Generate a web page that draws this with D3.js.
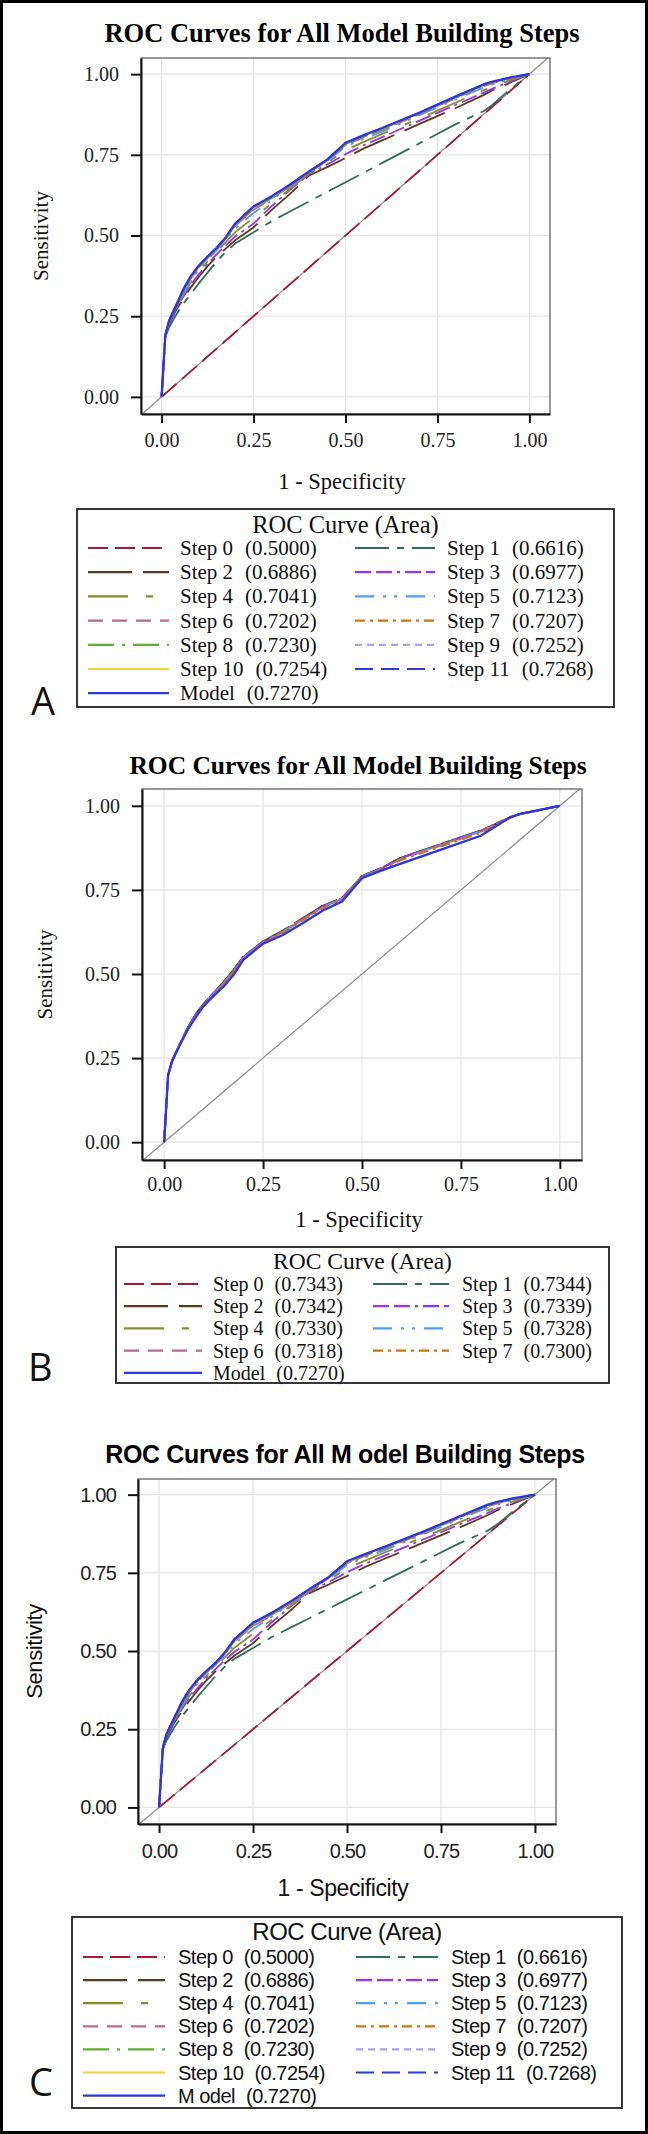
<!DOCTYPE html>
<html><head><meta charset="utf-8">
<script src="https://cdn.jsdelivr.net/npm/d3@7"></script>
<style>html,body{margin:0;padding:0;background:#fff;} svg{display:block}</style>
</head><body><svg id="fig" width="648" height="2134"></svg>
<script>
// ---------------- DATA ----------------
const fprGrid = [0, 0.01, 0.02, 0.04, 0.06, 0.08, 0.10, 0.125, 0.15, 0.175, 0.2, 0.25, 0.3, 0.35, 0.4, 0.45, 0.5, 0.55, 0.6, 0.7, 0.8, 0.875, 0.9, 0.95, 1];
const chanceFpr = [0, 1];
const chanceTpr = [0, 1];

// Panel A (and C): sensitivity at each fprGrid value
const aStep1  = [0, 0.185, 0.215, 0.255, 0.290, 0.320, 0.350, 0.385, 0.420, 0.450, 0.475, 0.510, 0.545, 0.575, 0.605, 0.635, 0.665, 0.695, 0.725, 0.785, 0.845, 0.885, 0.905, 0.955, 1];
const aStep2  = [0, 0.187, 0.225, 0.270, 0.305, 0.340, 0.370, 0.405, 0.435, 0.460, 0.485, 0.525, 0.580, 0.630, 0.685, 0.712, 0.740, 0.770, 0.795, 0.845, 0.895, 0.935, 0.950, 0.975, 1];
const aStep3  = [0, 0.188, 0.228, 0.275, 0.312, 0.348, 0.378, 0.412, 0.442, 0.470, 0.497, 0.537, 0.592, 0.642, 0.690, 0.720, 0.752, 0.780, 0.805, 0.855, 0.905, 0.942, 0.955, 0.978, 1];
const aStep4  = [0, 0.188, 0.230, 0.278, 0.318, 0.355, 0.385, 0.420, 0.450, 0.480, 0.510, 0.555, 0.600, 0.645, 0.692, 0.725, 0.765, 0.790, 0.815, 0.862, 0.912, 0.950, 0.960, 0.982, 1];
const aStep5  = [0, 0.189, 0.231, 0.280, 0.325, 0.362, 0.392, 0.425, 0.455, 0.487, 0.522, 0.570, 0.610, 0.650, 0.694, 0.730, 0.775, 0.800, 0.822, 0.872, 0.922, 0.958, 0.968, 0.985, 1];
const aStep6  = [0, 0.189, 0.232, 0.282, 0.330, 0.368, 0.398, 0.430, 0.458, 0.491, 0.530, 0.580, 0.615, 0.652, 0.695, 0.732, 0.780, 0.805, 0.827, 0.875, 0.926, 0.962, 0.972, 0.987, 1];
const aStep7  = [0, 0.189, 0.233, 0.283, 0.331, 0.369, 0.399, 0.431, 0.459, 0.492, 0.531, 0.582, 0.616, 0.653, 0.696, 0.733, 0.781, 0.806, 0.828, 0.876, 0.927, 0.963, 0.973, 0.987, 1];
const aStep8  = [0, 0.190, 0.234, 0.284, 0.333, 0.372, 0.402, 0.433, 0.460, 0.493, 0.534, 0.585, 0.618, 0.655, 0.697, 0.734, 0.783, 0.808, 0.830, 0.878, 0.929, 0.965, 0.975, 0.988, 1];
const aStep9  = [0, 0.190, 0.234, 0.285, 0.334, 0.374, 0.404, 0.434, 0.461, 0.494, 0.536, 0.588, 0.620, 0.657, 0.697, 0.734, 0.785, 0.810, 0.832, 0.879, 0.930, 0.967, 0.976, 0.989, 1];
const aStep10 = [0, 0.190, 0.235, 0.285, 0.335, 0.374, 0.404, 0.435, 0.462, 0.495, 0.536, 0.589, 0.621, 0.657, 0.698, 0.735, 0.786, 0.810, 0.832, 0.879, 0.930, 0.967, 0.976, 0.989, 1];
const aStep11 = [0, 0.190, 0.235, 0.285, 0.335, 0.375, 0.405, 0.435, 0.462, 0.495, 0.537, 0.590, 0.622, 0.658, 0.698, 0.735, 0.786, 0.810, 0.833, 0.880, 0.930, 0.967, 0.976, 0.990, 1];
const aModel  = [0, 0.190, 0.235, 0.285, 0.335, 0.375, 0.405, 0.435, 0.462, 0.495, 0.537, 0.590, 0.622, 0.658, 0.698, 0.735, 0.787, 0.811, 0.833, 0.880, 0.931, 0.968, 0.977, 0.990, 1];

// Panel B
const bStep0 = [0, 0.198, 0.243, 0.294, 0.341, 0.381, 0.411, 0.444, 0.475, 0.512, 0.551, 0.597, 0.628, 0.666, 0.702, 0.726, 0.791, 0.816, 0.846, 0.886, 0.926, 0.966, 0.976, 0.988, 1];
const bStep1 = [0, 0.199, 0.243, 0.294, 0.342, 0.381, 0.412, 0.445, 0.476, 0.511, 0.552, 0.597, 0.629, 0.665, 0.701, 0.727, 0.791, 0.816, 0.846, 0.887, 0.926, 0.967, 0.976, 0.988, 1];
const bStep2 = [0, 0.198, 0.242, 0.293, 0.341, 0.380, 0.411, 0.444, 0.475, 0.511, 0.551, 0.596, 0.628, 0.666, 0.702, 0.725, 0.790, 0.816, 0.846, 0.886, 0.925, 0.966, 0.976, 0.988, 1];
const bStep3 = [0, 0.198, 0.242, 0.293, 0.340, 0.380, 0.410, 0.443, 0.474, 0.510, 0.550, 0.597, 0.627, 0.664, 0.701, 0.726, 0.790, 0.815, 0.845, 0.887, 0.926, 0.966, 0.976, 0.988, 1];
const bStep4 = [0, 0.197, 0.241, 0.292, 0.339, 0.378, 0.409, 0.442, 0.472, 0.508, 0.548, 0.595, 0.626, 0.663, 0.699, 0.724, 0.789, 0.814, 0.843, 0.884, 0.924, 0.965, 0.975, 0.988, 1];
const bStep5 = [0, 0.197, 0.241, 0.292, 0.339, 0.378, 0.408, 0.441, 0.472, 0.508, 0.548, 0.595, 0.625, 0.662, 0.699, 0.724, 0.789, 0.814, 0.844, 0.884, 0.924, 0.965, 0.975, 0.987, 1];
const bStep6 = [0, 0.197, 0.240, 0.291, 0.338, 0.377, 0.407, 0.440, 0.470, 0.506, 0.547, 0.594, 0.624, 0.661, 0.698, 0.723, 0.788, 0.813, 0.842, 0.882, 0.922, 0.965, 0.975, 0.987, 1];
const bStep7 = [0, 0.196, 0.240, 0.290, 0.337, 0.375, 0.406, 0.438, 0.468, 0.503, 0.545, 0.593, 0.622, 0.659, 0.695, 0.721, 0.787, 0.811, 0.839, 0.879, 0.919, 0.965, 0.975, 0.987, 1];
const bModel = [0, 0.200, 0.240, 0.290, 0.335, 0.372, 0.405, 0.435, 0.462, 0.497, 0.542, 0.590, 0.616, 0.651, 0.688, 0.716, 0.785, 0.808, 0.829, 0.870, 0.911, 0.966, 0.976, 0.988, 1];

// Legend labels and areas
const namesA = ["Step 0", "Step 1", "Step 2", "Step 3", "Step 4", "Step 5", "Step 6", "Step 7", "Step 8", "Step 9", "Step 10", "Step 11", "Model"];
const areasA = ["0.5000", "0.6616", "0.6886", "0.6977", "0.7041", "0.7123", "0.7202", "0.7207", "0.7230", "0.7252", "0.7254", "0.7268", "0.7270"];
const namesB = ["Step 0", "Step 1", "Step 2", "Step 3", "Step 4", "Step 5", "Step 6", "Step 7", "Model"];
const areasB = ["0.7343", "0.7344", "0.7342", "0.7339", "0.7330", "0.7328", "0.7318", "0.7300", "0.7270"];
const namesC = ["Step 0", "Step 1", "Step 2", "Step 3", "Step 4", "Step 5", "Step 6", "Step 7", "Step 8", "Step 9", "Step 10", "Step 11", "M odel"];

const tickValues = [0, 0.25, 0.5, 0.75, 1];
const tickLabels = ["0.00", "0.25", "0.50", "0.75", "1.00"];
const chartTitle = "ROC Curves for All Model Building Steps";
const chartTitleC = "ROC Curves for All M odel Building Steps";
const legendTitle = "ROC Curve (Area)";
const xLabel = "1 - Specificity";
const yLabel = "Sensitivity";

// ---------------- STYLES ----------------
const styles = {
  "Step 0":  {c: "#a8192e", d: "20,7", w: 1.8},
  "Step 1":  {c: "#2f6e5f", d: "34,8,7,8", w: 1.8},
  "Step 2":  {c: "#5a3a22", d: "44,11", w: 1.8},
  "Step 3":  {c: "#9a34ea", d: "16,5,16,5,3,5", w: 1.8},
  "Step 4":  {c: "#8a8c26", d: "40,18,7,18", w: 1.8},
  "Step 5":  {c: "#4f9df5", d: "19,9,3,8,3,9", w: 1.8},
  "Step 6":  {c: "#b66a96", d: "15,9", w: 1.8},
  "Step 7":  {c: "#c87812", d: "10,5,3,5", w: 1.8},
  "Step 8":  {c: "#5fb02e", d: "26,8,3,8", w: 1.8},
  "Step 9":  {c: "#ab9ff3", d: "7,5", w: 1.8},
  "Step 10": {c: "#f0d23a", d: null, w: 1.8},
  "Step 11": {c: "#2a3bd9", d: "18,8", w: 1.8},
  "Model":   {c: "#2b36dc", d: null, w: 2.3},
};

const svg = d3.select("#fig");
svg.append("rect").attr("x", 0).attr("y", 0).attr("width", 648).attr("height", 2134).attr("fill", "#fff");

function drawPanel(cfg) {
  const g = svg.append("g");
  const F = cfg.frame;
  const x = d3.scaleLinear().domain([-0.056, 1.056]).range([F.l, F.r]);
  const y = d3.scaleLinear().domain([-0.053, 1.05]).range([F.b, F.t]);

  // title
  g.append("text").attr("x", cfg.titleX).attr("y", cfg.titleY)
    .attr("text-anchor", "middle").attr("font-family", cfg.family)
    .attr("font-weight", "bold").attr("font-size", cfg.titleSize)
    .attr("letter-spacing", cfg.titleLS || 0)
    .text(cfg.title);

  // frame background + grid
  g.append("rect").attr("x", F.l).attr("y", F.t).attr("width", F.r - F.l).attr("height", F.b - F.t)
    .attr("fill", "#fff");
  g.selectAll(".gx").data(tickValues).join("line")
    .attr("x1", d => x(d)).attr("x2", d => x(d)).attr("y1", F.t).attr("y2", F.b)
    .attr("stroke", "#e4e4e4").attr("stroke-width", 1.2);
  g.selectAll(".gy").data(tickValues).join("line")
    .attr("y1", d => y(d)).attr("y2", d => y(d)).attr("x1", F.l).attr("x2", F.r)
    .attr("stroke", "#e4e4e4").attr("stroke-width", 1.2);

  // chance diagonal
  const t0 = Math.max(x.domain()[0], y.domain()[0]);
  const t1 = Math.min(x.domain()[1], y.domain()[1]);
  g.append("line").attr("x1", x(t0)).attr("y1", y(t0)).attr("x2", x(t1)).attr("y2", y(t1))
    .attr("stroke", "#8c8c8c").attr("stroke-width", 1.2);

  // curves
  const line = d3.line().x(d => x(d[0])).y(d => y(d[1]));
  cfg.series.forEach(s => {
    const st = styles[s.key];
    const pts = s.fpr.map((f, i) => [f, s.tpr[i]]);
    g.append("path").attr("d", line(pts)).attr("fill", "none")
      .attr("stroke", st.c).attr("stroke-width", st.w)
      .attr("stroke-dasharray", st.d).attr("stroke-linejoin", "round");
  });

  // frame outline
  g.append("rect").attr("x", F.l).attr("y", F.t).attr("width", F.r - F.l).attr("height", F.b - F.t)
    .attr("fill", "none").attr("stroke", "#6e6e6e").attr("stroke-width", 1.4);

  // axes
  const axL = d3.axisLeft(y).tickValues(tickValues).tickFormat((d, i) => tickLabels[i])
    .tickSize(10).tickSizeOuter(0).tickPadding(cfg.yPad);
  const axB = d3.axisBottom(x).tickValues(tickValues).tickFormat((d, i) => tickLabels[i])
    .tickSize(9).tickSizeOuter(0).tickPadding(cfg.xPad);
  const gl = g.append("g").attr("transform", `translate(${F.l},0)`).call(axL);
  const gb = g.append("g").attr("transform", `translate(0,${F.b})`).call(axB);
  [gl, gb].forEach(a => {
    a.select(".domain").attr("stroke", "#111").attr("stroke-width", 2);
    a.selectAll(".tick line").attr("stroke", "#111").attr("stroke-width", 2);
    a.selectAll(".tick text").attr("font-family", cfg.family).attr("font-size", cfg.tickSize)
      .attr("letter-spacing", cfg.tickLS || 0).attr("fill", "#222");
  });

  // axis labels
  g.append("text").attr("x", cfg.xLabelX).attr("y", cfg.xLabelY).attr("text-anchor", "middle")
    .attr("font-family", cfg.family).attr("font-size", cfg.labelSize).attr("fill", "#111")
    .attr("letter-spacing", cfg.labelLS || 0).text(xLabel);
  g.append("text").attr("transform", `translate(${cfg.yLabelX},${(F.t + F.b) / 2}) rotate(-90)`)
    .attr("text-anchor", "middle").attr("font-family", cfg.family).attr("font-size", cfg.yLabelSize)
    .attr("letter-spacing", cfg.labelLS || 0).attr("fill", "#111").text(yLabel);

  // legend
  const L = cfg.legend;
  g.append("rect").attr("x", L.l).attr("y", L.t).attr("width", L.r - L.l).attr("height", L.b - L.t)
    .attr("fill", "#fff").attr("stroke", "#222").attr("stroke-width", 1.8);
  g.append("text").attr("x", (L.l + L.r) / 2 + (L.titleDx || 0)).attr("y", L.titleY).attr("text-anchor", "middle")
    .attr("font-family", cfg.family).attr("font-size", L.titleSize).attr("fill", "#111")
    .attr("letter-spacing", cfg.legLS || 0).text(legendTitle);
  cfg.names.forEach((nm, i) => {
    const col = i % 2, row = Math.floor(i / 2);
    const C = col === 0 ? L.col1 : L.col2;
    const cy = L.rowY0 + row * L.rowDy;
    const st = styles[cfg.keys[i]];
    g.append("line").attr("x1", C.x0).attr("x2", C.x1).attr("y1", cy).attr("y2", cy)
      .attr("stroke", st.c).attr("stroke-width", 2.2).attr("stroke-dasharray", st.d);
    const tx = g.append("text").attr("x", C.tx).attr("y", cy + L.baseOff)
      .attr("font-family", cfg.family).attr("font-size", L.size).attr("fill", "#111")
      .attr("letter-spacing", cfg.legLS || 0);
    tx.append("tspan").text(nm);
    tx.append("tspan").attr("dx", L.gap).text(`(${cfg.areas[i]})`);
  });

  // panel letter
  svg.append("text").attr("x", cfg.letter.x).attr("y", cfg.letter.y)
    .attr("font-family", "'Open Sans', 'DejaVu Sans', sans-serif").attr("font-size", 38)
    .attr("fill", "#111").text(cfg.letter.t);
}

const keysA = namesA;
const seriesA = [
  {key: "Step 0", fpr: chanceFpr, tpr: chanceTpr},
  {key: "Step 1", fpr: fprGrid, tpr: aStep1},
  {key: "Step 2", fpr: fprGrid, tpr: aStep2},
  {key: "Step 3", fpr: fprGrid, tpr: aStep3},
  {key: "Step 4", fpr: fprGrid, tpr: aStep4},
  {key: "Step 5", fpr: fprGrid, tpr: aStep5},
  {key: "Step 6", fpr: fprGrid, tpr: aStep6},
  {key: "Step 7", fpr: fprGrid, tpr: aStep7},
  {key: "Step 8", fpr: fprGrid, tpr: aStep8},
  {key: "Step 9", fpr: fprGrid, tpr: aStep9},
  {key: "Step 10", fpr: fprGrid, tpr: aStep10},
  {key: "Step 11", fpr: fprGrid, tpr: aStep11},
  {key: "Model", fpr: fprGrid, tpr: aModel},
];
const seriesB = [
  {key: "Step 0", fpr: fprGrid, tpr: bStep0},
  {key: "Step 1", fpr: fprGrid, tpr: bStep1},
  {key: "Step 2", fpr: fprGrid, tpr: bStep2},
  {key: "Step 3", fpr: fprGrid, tpr: bStep3},
  {key: "Step 4", fpr: fprGrid, tpr: bStep4},
  {key: "Step 5", fpr: fprGrid, tpr: bStep5},
  {key: "Step 6", fpr: fprGrid, tpr: bStep6},
  {key: "Step 7", fpr: fprGrid, tpr: bStep7},
  {key: "Model", fpr: fprGrid, tpr: bModel},
];

const serif = "'Liberation Serif', 'Times New Roman', serif";
const sans = "'Liberation Sans', Arial, sans-serif";

// Panel A
drawPanel({
  family: serif, title: chartTitle, titleX: 342, titleY: 42, titleSize: 26.5,
  frame: {l: 141, r: 550, t: 58, b: 414},
  yPad: 12, xPad: 10, tickSize: 20,
  labelSize: 22.5, yLabelSize: 21, xLabelX: 342, xLabelY: 489, yLabelX: 48,
  series: seriesA, names: namesA, keys: keysA, areas: areasA,
  legend: {l: 77, r: 614, t: 509, b: 707, titleY: 533, titleSize: 24.5,
    rowY0: 548, rowDy: 24.2, baseOff: 7, size: 21, gap: 12,
    col1: {x0: 88, x1: 169, tx: 180}, col2: {x0: 355, x1: 435, tx: 447}},
  letter: {t: "A", x: 31, y: 715}
});

// Panel B
drawPanel({
  family: serif, title: chartTitle, titleX: 358, titleY: 774, titleSize: 25.5,
  frame: {l: 142, r: 582, t: 789, b: 1160},
  yPad: 12, xPad: 8, tickSize: 20,
  labelSize: 22.5, yLabelSize: 21, xLabelX: 359, xLabelY: 1227, yLabelX: 52,
  series: seriesB, names: namesB, keys: namesB, areas: areasB,
  legend: {l: 116, r: 609, t: 1247, b: 1383, titleY: 1269, titleSize: 23.5,
    rowY0: 1284, rowDy: 22.2, baseOff: 7, size: 20, gap: 11,
    col1: {x0: 124, x1: 202, tx: 213}, col2: {x0: 373, x1: 449, tx: 462}},
  letter: {t: "B", x: 28, y: 1381}
});

// Panel C
drawPanel({
  family: sans, title: chartTitleC, titleX: 345, titleY: 1463, titleSize: 25, titleLS: -0.35,
  frame: {l: 138, r: 556, t: 1479, b: 1824},
  yPad: 12, xPad: 11, tickSize: 20, tickLS: -0.8,
  labelSize: 23, yLabelSize: 22, labelLS: -0.4, xLabelX: 343, xLabelY: 1896, yLabelX: 42,
  series: seriesA, names: namesC, keys: keysA, areas: areasA, legLS: -0.5,
  legend: {l: 72, r: 622, t: 1917, b: 2108, titleY: 1940, titleSize: 24,
    rowY0: 1957, rowDy: 23.1, baseOff: 7, size: 20, gap: 11,
    col1: {x0: 83, x1: 165, tx: 178}, col2: {x0: 356, x1: 438, tx: 451}},
  letter: {t: "C", x: 29, y: 2096}
});

// outer figure border
svg.append("rect").attr("x", 1.5).attr("y", 1.5).attr("width", 645).attr("height", 2131)
  .attr("fill", "none").attr("stroke", "#000").attr("stroke-width", 3);
</script>
</body></html>
